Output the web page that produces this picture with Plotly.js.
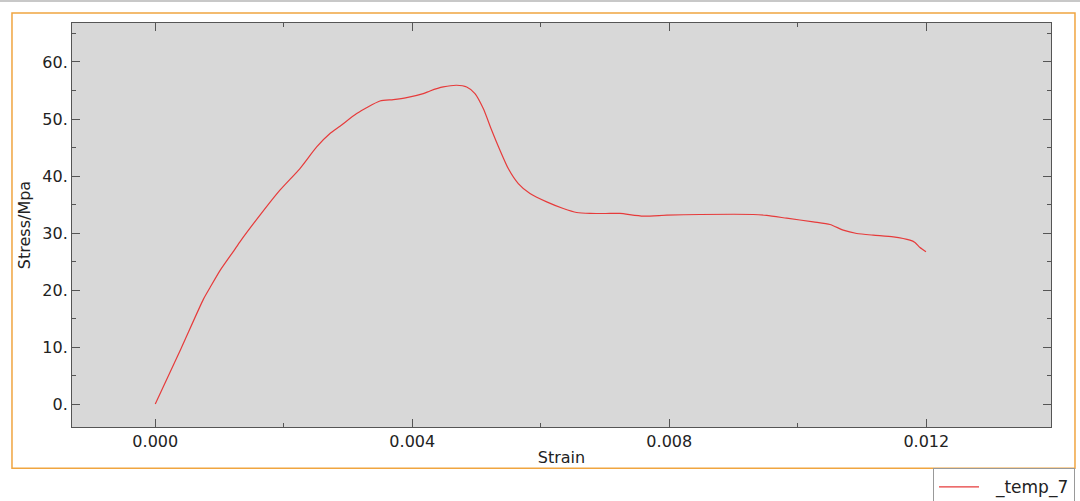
<!DOCTYPE html>
<html>
<head>
<meta charset="utf-8">
<script src="https://cdn.plot.ly/plotly-3.0.1.min.js"></script>
<style>html,body{margin:0;padding:0;background:#fff;}#chart{width:1080px;height:501px;}</style>
</head>
<body>
<div id="chart"></div>
<script>
const seriesName = "\u2002\u2009_temp_7";
const strain = [0, 0.0004, 0.00075, 0.000851, 0.001007, 0.00123, 0.001318, 0.00163, 0.00194, 0.002252, 0.002512, 0.002719, 0.002875, 0.003135, 0.003497, 0.003704, 0.003913, 0.004171, 0.004276, 0.004482, 0.004691, 0.004847, 0.004976, 0.005105, 0.005236, 0.005365, 0.005494, 0.00565, 0.005832, 0.006092, 0.00635, 0.006559, 0.006766, 0.007077, 0.007233, 0.007595, 0.00796, 0.008478, 0.009307, 0.009516, 0.009827, 0.010241, 0.010501, 0.010708, 0.010917, 0.011175, 0.011487, 0.011746, 0.011824, 0.011902, 0.011995];
const stress = [0, 9.7, 18.4, 20.4, 23.4, 27.0, 28.45, 33.13, 37.51, 41.31, 45.10, 47.45, 48.73, 50.96, 53.16, 53.41, 53.76, 54.46, 54.92, 55.62, 55.92, 55.62, 54.46, 51.83, 48.03, 44.52, 41.31, 38.68, 36.93, 35.46, 34.30, 33.60, 33.43, 33.43, 33.43, 32.96, 33.13, 33.25, 33.25, 33.08, 32.60, 31.95, 31.50, 30.50, 29.92, 29.62, 29.33, 28.75, 28.34, 27.46, 26.70];
const xTickVals = [0, 0.004, 0.008, 0.012];
const xTickText = ["0.000", "0.004", "0.008", "0.012"];
const xMinorVals = [0.002, 0.006, 0.010];
const yTickVals = [0, 10, 20, 30, 40, 50, 60];
const yTickText = ["0.", "10.", "20.", "30.", "40.", "50.", "60."];
const yMinorVals = [5, 15, 25, 35, 45, 55, 65];

const font = {family: "DejaVu Sans", size: 16, color: "#222"};
const axisCommon = {
  showgrid: false, zeroline: false, showline: true, linecolor: "#555", linewidth: 1,
  ticks: "inside", ticklen: 8, tickwidth: 1, tickcolor: "#555", mirror: "ticks",
  tickmode: "array", tickfont: font
};

const trace = {
  x: strain, y: stress, type: "scatter", mode: "lines", name: seriesName,
  line: {color: "#e63b3b", width: 1.2, shape: "spline", smoothing: 0.6},
  showlegend: true
};

const layout = {
  width: 1080, height: 501,
  margin: {l: 72, r: 29, t: 23, b: 74, autoexpand: false},
  paper_bgcolor: "#ffffff", plot_bgcolor: "#d8d8d8",
  font: font,
  xaxis: Object.assign({}, axisCommon, {
    range: [-0.001296, 0.013941], tickvals: xTickVals, ticktext: xTickText,
    minor: {tickmode: "array", tickvals: xMinorVals, ticks: "inside", ticklen: 4, tickcolor: "#555"},
    title: {text: "Strain", font: font, standoff: 1}
  }),
  yaxis: Object.assign({}, axisCommon, {
    range: [-4.03, 66.84], tickvals: yTickVals, ticktext: yTickText,
    minor: {tickmode: "array", tickvals: yMinorVals, ticks: "inside", ticklen: 4, tickcolor: "#555"},
    title: {text: "Stress/Mpa", font: font, standoff: 7}
  }),
  showlegend: true,
  legend: {
    x: 0.8795, xanchor: "left", y: -0.1021, yanchor: "top",
    bordercolor: "#999", borderwidth: 1, bgcolor: "#fff",
    font: {family: "DejaVu Sans", size: 17, color: "#222"}, itemwidth: 40
  },
  shapes: [
    {type: "rect", xref: "paper", yref: "paper", x0: -0.0736, x1: 1.0297, y0: 1.052, y1: 1.060,
     fillcolor: "#c8c8c8", line: {width: 0}, layer: "below"},
    {type: "rect", xref: "paper", yref: "paper", x0: -0.0613, x1: 1.0245, y0: -0.1021, y1: 1.0248,
     fillcolor: "rgba(0,0,0,0)", line: {color: "#f0a540", width: 1.5}, layer: "above"}
  ]
};

Plotly.newPlot("chart", [trace], layout, {displayModeBar: false, staticPlot: true});
</script>
</body>
</html>
